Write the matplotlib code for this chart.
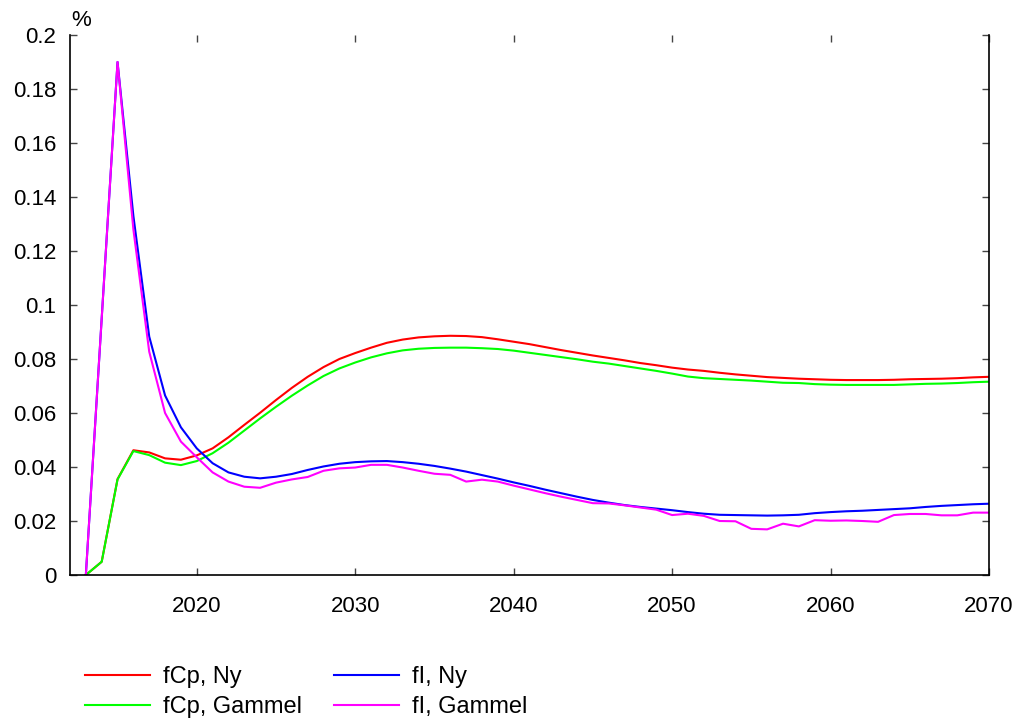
import matplotlib
matplotlib.use("Agg")

import matplotlib.pyplot as plt
from matplotlib.ticker import FormatStrFormatter

# Datos (años 2013-2070)
years = list(range(2013, 2071))

fcp_ny = [
    0.0, 0.0049, 0.0355, 0.0462, 0.0454, 0.0432, 0.0427, 0.0443, 0.0469, 0.0510,
    0.0556, 0.0601, 0.0648, 0.0693, 0.0734, 0.0770, 0.0800, 0.0822, 0.0842, 0.0860,
    0.0872, 0.0880, 0.0884, 0.0886, 0.0885, 0.0881, 0.0873, 0.0864, 0.0855, 0.0844,
    0.0833, 0.0823, 0.0813, 0.0804, 0.0795, 0.0785, 0.0777, 0.0768, 0.0761, 0.0756,
    0.0749, 0.0743, 0.0738, 0.0733, 0.0730, 0.0727, 0.0725, 0.0723, 0.0722, 0.0722,
    0.0722, 0.0723, 0.0725, 0.0726, 0.0727, 0.0729, 0.0732, 0.0734,
]

fcp_gammel = [
    0.0, 0.0049, 0.0354, 0.0459, 0.0444, 0.0416, 0.0407, 0.0422, 0.0451, 0.0490,
    0.0535, 0.0580, 0.0623, 0.0664, 0.0702, 0.0737, 0.0765, 0.0787, 0.0806, 0.0821,
    0.0832, 0.0838, 0.0841, 0.0842, 0.0842, 0.0840, 0.0837, 0.0831, 0.0823, 0.0815,
    0.0807, 0.0799, 0.0790, 0.0783, 0.0774, 0.0765, 0.0756, 0.0746, 0.0735, 0.0729,
    0.0726, 0.0723, 0.0720, 0.0716, 0.0712, 0.0711, 0.0707, 0.0705, 0.0704, 0.0704,
    0.0704, 0.0704, 0.0706, 0.0708, 0.0709, 0.0711, 0.0714, 0.0716,
]

fi_ny = [
    0.0, 0.095, 0.190, 0.133, 0.0883, 0.0665, 0.0547, 0.0469, 0.0414, 0.0380,
    0.0364, 0.0358, 0.0364, 0.0374, 0.0389, 0.0402, 0.0412, 0.0418, 0.0421, 0.0422,
    0.0418, 0.0412, 0.0404, 0.0394, 0.0383, 0.0370, 0.0357, 0.0343, 0.0330, 0.0316,
    0.0303, 0.0290, 0.0278, 0.0268, 0.0259, 0.0252, 0.0246, 0.0240, 0.0233, 0.0227,
    0.0223, 0.0222, 0.0221, 0.0220, 0.0221, 0.0223, 0.0229, 0.0233, 0.0236, 0.0238,
    0.0241, 0.0244, 0.0247, 0.0252, 0.0256, 0.0259, 0.0262, 0.0264,
]

fi_gammel = [
    0.0, 0.095, 0.190, 0.128, 0.0827, 0.0600, 0.0494, 0.0436, 0.0380, 0.0346,
    0.0327, 0.0323, 0.0342, 0.0354, 0.0363, 0.0386, 0.0395, 0.0398, 0.0408, 0.0408,
    0.0398, 0.0386, 0.0375, 0.0371, 0.0346, 0.0353, 0.0346, 0.0331, 0.0317, 0.0303,
    0.0290, 0.0278, 0.0266, 0.0265, 0.0258, 0.0250, 0.0242, 0.0222, 0.0227, 0.0219,
    0.0200, 0.0199, 0.0171, 0.0169, 0.0190, 0.0180, 0.0203, 0.0201, 0.0202, 0.0200,
    0.0197, 0.0222, 0.0226, 0.0226, 0.0221, 0.0221, 0.0231, 0.0231,
]

labels = ["fCp, Ny", "fCp, Gammel", "fI, Ny", "fI, Gammel"]
colors = ["#ff0000", "#00ff00", "#0000ff", "#ff00ff"]
x_ticks = [2020, 2030, 2040, 2050, 2060, 2070]
y_ticks = [0, 0.02, 0.04, 0.06, 0.08, 0.1, 0.12, 0.14, 0.16, 0.18, 0.2]

plt.rcParams["font.family"] = ["Liberation Sans", "DejaVu Sans"]
plt.rcParams["font.size"] = 16

fig = plt.figure(figsize=(10.22, 7.18), dpi=100)
ax = fig.add_axes([70 / 1022, 1 - 575 / 718, 919 / 1022, 540 / 718])

# Series
for serie, lab, col in zip([fcp_ny, fcp_gammel, fi_ny, fi_gammel], labels, colors):
    ax.plot(years, serie, color=col, linewidth=1.5, label=lab)

ax.set_xlim(2012, 2070)
ax.set_ylim(0, 0.2)
ax.set_xticks(x_ticks)
ax.set_yticks(y_ticks)
ax.yaxis.set_major_formatter(FormatStrFormatter("%g"))

# Estilo tipo gnuplot: borde izquierdo, inferior y derecho, ticks hacia dentro
ax.spines["top"].set_visible(False)
for s in ["left", "bottom", "right"]:
    ax.spines[s].set_linewidth(1.2)
ax.tick_params(direction="in", length=5, width=1, color="#444444",
               top=True, right=True, labeltop=False, labelright=False)
ax.tick_params(axis="x", pad=15)
ax.tick_params(axis="y", pad=10)

fig.text(81 / 1022, 1 - 21 / 718, "%", ha="center", va="center")

fig.legend(loc="upper left", bbox_to_anchor=(76 / 1022, 1 - 657 / 718),
           ncol=2, frameon=False, fontsize=17, handlelength=2.75,
           handletextpad=0.55, columnspacing=1.36, labelspacing=0.33,
           borderaxespad=0)

fig.savefig("out.png", dpi=100)
plt.close()
